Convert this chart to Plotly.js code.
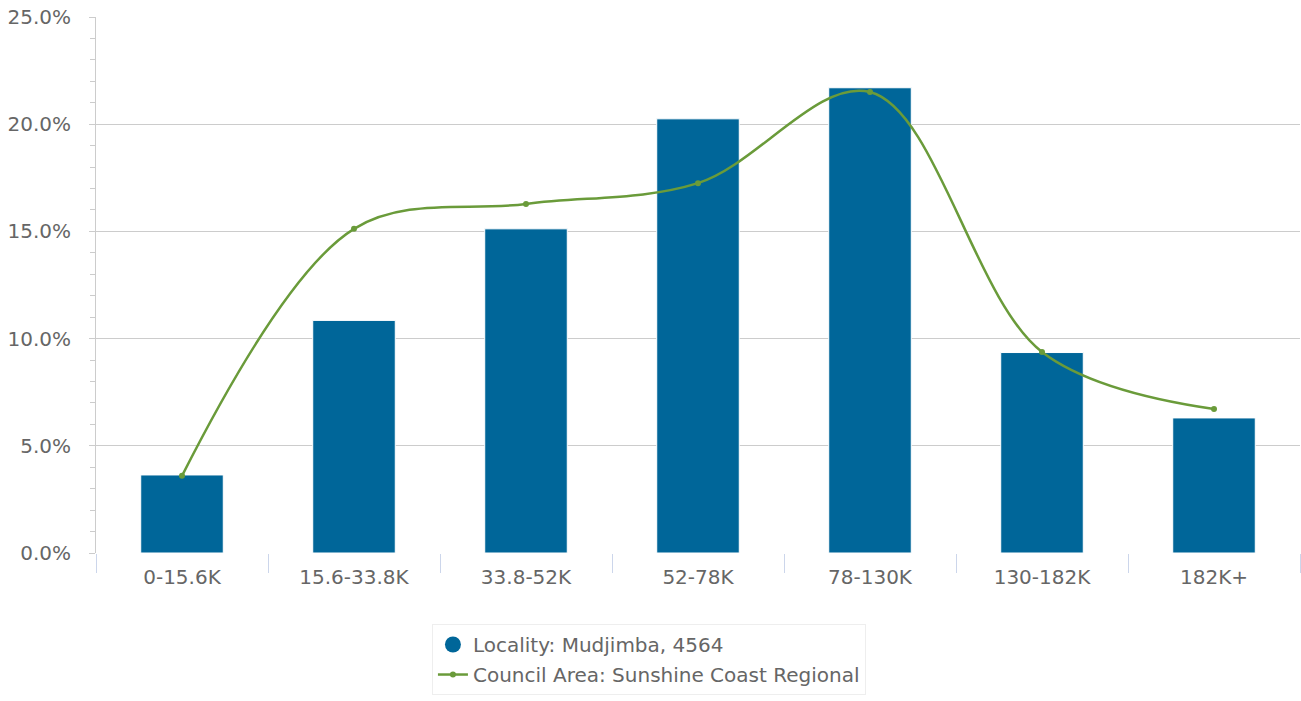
<!DOCTYPE html>
<html>
<head>
<meta charset="utf-8">
<script src="https://cdn.plot.ly/plotly-3.0.1.min.js"></script>
<style>html,body{margin:0;padding:0;background:#fff}#chart{width:1301px;height:701px}</style>
</head>
<body>
<div id="chart"></div>
<script>
const categories = ["0-15.6K", "15.6-33.8K", "33.8-52K", "52-78K", "78-130K", "130-182K", "182K+"];
const localityValues = [3.64, 10.85, 15.12, 20.25, 21.7, 9.35, 6.3];
const councilValues = [3.6, 15.12, 16.28, 17.25, 21.5, 9.38, 6.72];
const localityName = "Locality: Mudjimba, 4564";
const councilName = "Council Area: Sunshine Coast Regional";

const blue = "#006699";
const green = "#6a9b3a";
const font = "DejaVu Sans, sans-serif";

const traces = [
  {
    type: "bar", x: categories, y: localityValues, name: localityName,
    marker: {color: blue, line: {color: "#ffffff", width: 1}},
    width: 0.48, showlegend: false, hoverinfo: "y"
  },
  {
    type: "scatter", mode: "markers", x: [categories[0]], y: [null], name: localityName,
    marker: {color: blue, size: 17, symbol: "circle"}, legendgroup: "a", hoverinfo: "skip"
  },
  {
    type: "scatter", mode: "lines+markers", x: categories, y: councilValues, name: councilName,
    line: {color: green, width: 2.5, shape: "spline", smoothing: 1},
    marker: {color: green, size: 6}, legendgroup: "b"
  }
];

const layout = {
  width: 1301, height: 701,
  margin: {l: 96, r: 1, t: 17, b: 148, autoexpand: false},
  paper_bgcolor: "#fff", plot_bgcolor: "#fff",
  font: {family: font, size: 20, color: "#666666"},
  xaxis: {
    type: "category",
    tickson: "boundaries", ticks: "outside", ticklen: 19, tickcolor: "#ccd6eb", tickwidth: 1,
    showgrid: false, showline: false, zeroline: false,
    ticklabelstandoff: 10,
    tickfont: {family: font, size: 20, color: "#666666"},
    range: [-0.5, 6.5]
  },
  yaxis: {
    range: [0, 25], dtick: 5, tick0: 0,
    tickformat: ".1f", ticksuffix: "%",
    ticks: "outside", ticklen: 6, tickcolor: "#cccccc",
    showline: true, linecolor: "#cccccc", linewidth: 1,
    gridcolor: "#cccccc", gridwidth: 1, zeroline: false,
    ticklabelstandoff: 14,
    minor: {dtick: 1, ticks: "outside", ticklen: 5, tickcolor: "#cccccc", showgrid: false},
    tickfont: {family: font, size: 20, color: "#666666"}
  },
  showlegend: true,
  legend: {
    xref: "container", yref: "container",
    x: 0.4988, xanchor: "center", y: 0.1098, yanchor: "top",
    orientation: "v", bgcolor: "#fff", bordercolor: "#eeeeee", borderwidth: 1,
    traceorder: "grouped", tracegroupgap: 1,
    font: {family: font, size: 20, color: "#666666"}
  }
};

Plotly.newPlot("chart", traces, layout, {displayModeBar: false, staticPlot: true});
</script>
</body>
</html>
